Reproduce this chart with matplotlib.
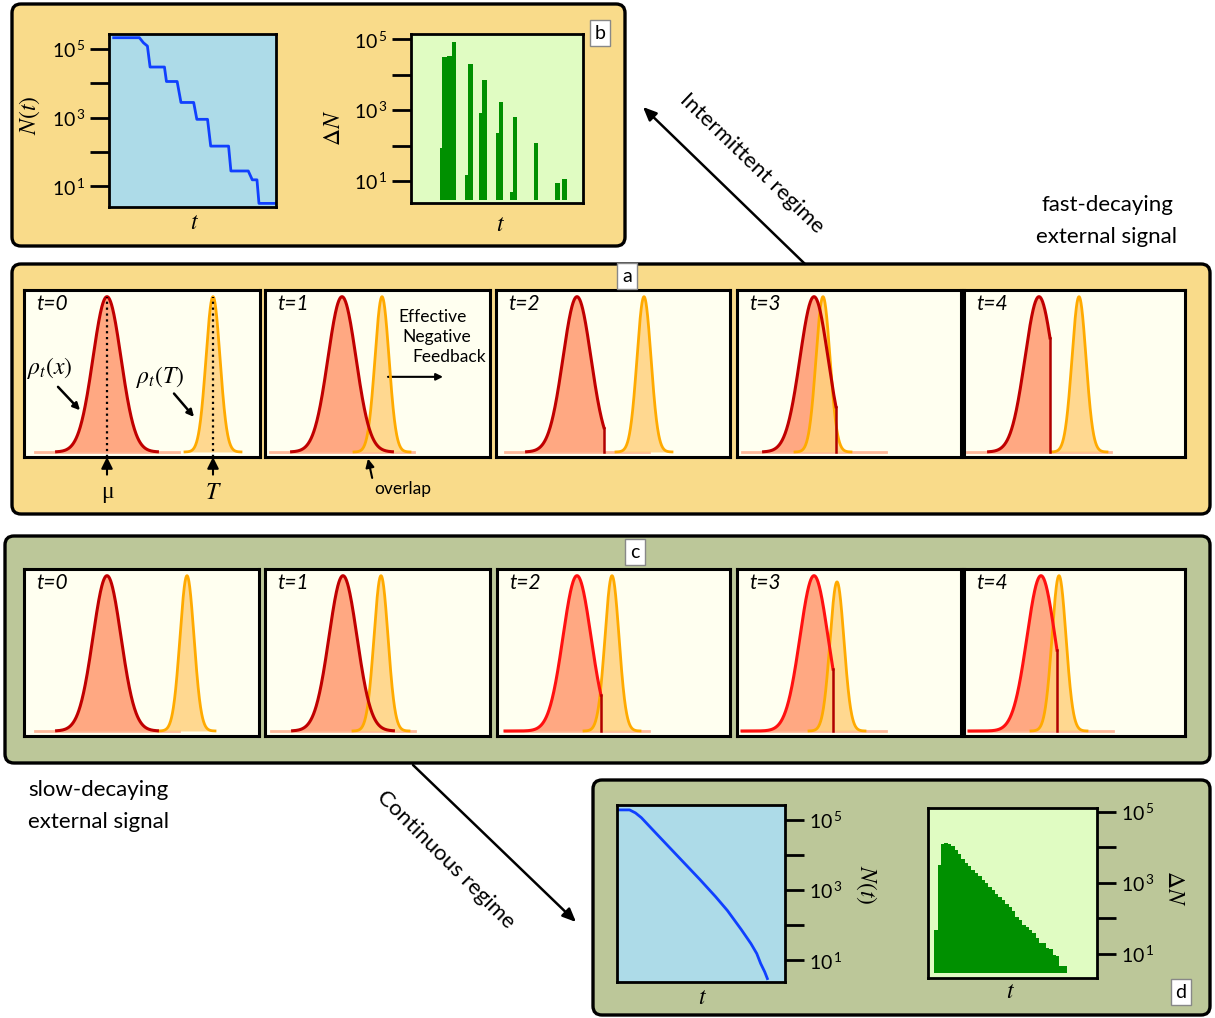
"""Intermittent vs continuous regime schematic"""

import matplotlib.pyplot as plt
import numpy as np
from matplotlib.patches import FancyBboxPatch
from matplotlib.ticker import NullLocator

plt.rcParams['font.family'] = ['Lato', 'DejaVu Sans']
plt.rcParams['mathtext.fontset'] = 'stix'

W, H = 1215, 1018

# panel b : intermittent regime (t runs 0..100 across the axes)
b_nt_t = [2.8, 18.2, 20.6, 23.0, 24.6, 33.2, 34.4, 40.8, 43.1, 50.7, 52.6,
          59.0, 60.9, 71.6, 73.0, 83.4, 85.8, 88.6, 89.8, 100]
b_nt_n = [2.1e5, 2.1e5, 1.5e5, 1.2e5, 2.95e4, 2.95e4, 1.12e4, 1.12e4, 2750,
          2750, 890, 890, 148, 148, 28, 28, 15.5, 15.5, 3.2, 3.2]
b_bar_left = [16.9, 18.0, 20.7, 23.6, 31.6, 33.1, 39.7, 41.3, 49.4, 51.0,
              57.6, 59.1, 71.3, 83.7, 87.8]
b_bar_width = [1.1, 2.7, 2.9, 2.8, 1.5, 2.8, 1.6, 2.7, 1.6, 2.7, 1.5, 2.7,
               2.7, 2.7, 2.7]
b_bar_dn = [84, 31000, 34000, 85000, 15, 20000, 810, 7100, 230, 1700, 4.9,
            660, 115, 8.6, 11.6]

# panel d : continuous regime
d_nt_t = [0.5, 7.5, 11.0, 14.5, 21.4, 30.8, 40.1, 49.4, 58.7, 65.7, 73.9,
          79.7, 83.2, 85.5, 87.9, 89.5]
d_nt_n = [1.95e5, 1.95e5, 1.6e5, 1.17e5, 5.2e4, 1.74e4, 5900, 2000, 650, 263,
          76, 30, 15.5, 8.1, 4.7, 3.0]
d_bar_left = list(np.arange(3.7, 79.0, 2.0))
d_bar_dn = [48, 3200, 12000, 13200, 12600, 10500, 8300, 6300, 4800, 3700,
            2900, 2300, 1860, 1510, 1200, 980, 780, 630, 500, 410, 330, 260,
            210, 160, 112, 89, 66, 58, 48, 40, 28, 21, 20, 15, 14, 9.5, 8.9,
            4.7]

# panels a and c : distributions rho_t(x) (red) and rho_t(T) (orange)
steps = ['t=0', 't=1', 't=2', 't=3', 't=4']
a_red_mu = [83, 77, 81, 77, 75]
a_org_mu = [189, 117, 148, 86, 115]
a_cut = [None, None, 108, 99, 86]
c_red_mu = [83, 78, 80, 77, 77]
c_org_mu = [163, 116, 115, 100, 95]
c_cut = [None, None, 104, 96, 93]
c_org_peak = [1.0, 1.0, 1.0, 0.96, 1.0]
sigma_red = 14
sigma_org = 7

ORANGE_BG = '#F9DB8A'
OLIVE_BG = '#BCC799'

fig = plt.figure(figsize=(W / 100, H / 100), dpi=100)


def px_axes(x0, y0, x1, y1, **kw):
    return fig.add_axes([x0 / W, 1 - y1 / H, (x1 - x0) / W, (y1 - y0) / H], **kw)


# background boxes
bg = fig.add_axes([0, 0, 1, 1])
bg.set_xlim(0, W)
bg.set_ylim(H, 0)
bg.axis('off')
for x0, y0, x1, y1, fc in [(12, 4, 625, 246, ORANGE_BG),
                           (12, 264, 1210, 514, ORANGE_BG),
                           (5, 536, 1210, 763, OLIVE_BG),
                           (593, 780, 1210, 1015, OLIVE_BG)]:
    bg.add_patch(FancyBboxPatch((x0, y0), x1 - x0, y1 - y0,
                                boxstyle='round,pad=0,rounding_size=9',
                                fc=fc, ec='black', lw=2.4))


def log_axes(ax, lo, hi, face, side='left'):
    ax.set_facecolor(face)
    ax.set_yscale('log')
    ax.set_ylim(lo, hi)
    ax.set_xlim(0, 100)
    ax.set_xticks([])
    ax.set_yticks([10, 100, 1e3, 1e4, 1e5])
    ax.set_yticklabels([r'$\mathregular{10^{\,1}}$', '', r'$\mathregular{10^{\,3}}$',
                        '', r'$\mathregular{10^{\,5}}$'])
    ax.yaxis.set_minor_locator(NullLocator())
    ax.tick_params(axis='y', direction='out', length=14, width=2,
                   labelsize=14, pad=3)
    if side == 'right':
        ax.yaxis.tick_right()
    for s in ax.spines.values():
        s.set_linewidth(2)


# panel b
ax = px_axes(109, 34, 276, 207)
log_axes(ax, 10 ** 0.40, 10 ** 5.43, '#ADDBE8')
ax.plot(b_nt_t, b_nt_n, color='#1040FF', lw=2)

ax = px_axes(411, 34, 583, 203)
log_axes(ax, 10 ** 0.38, 10 ** 5.15, '#E0FCC2')
ax.bar(b_bar_left, np.array(b_bar_dn) - 3, width=b_bar_width, bottom=3,
       align='edge', color='#009000', lw=0)

# panel d
ax = px_axes(617, 805, 785, 982)
log_axes(ax, 10 ** 0.38, 10 ** 5.43, '#ADDBE8', side='right')
ax.plot(d_nt_t, d_nt_n, color='#1040FF', lw=2)

ax = px_axes(928, 808, 1097, 978)
log_axes(ax, 10 ** 0.33, 10 ** 5.10, '#E0FCC2', side='right')
d_widths = [2.0] * (len(d_bar_dn) - 1) + [4.4]
ax.bar(d_bar_left, np.array(d_bar_dn) - 3, width=d_widths, bottom=3,
       align='edge', color='#009000', lw=0)


def dist_panel(ax, red_mu, org_mu, cut, red_col, org_peak=1.0, red_full=False):
    base, amp = 0.03, 0.93
    ax.plot([red_mu - 72, red_mu + 72], [base, base], color='#FFB89A', lw=2, zorder=1)
    lo = red_mu - 72 if red_full else red_mu - 3.6 * sigma_red
    hi = red_mu + 3.6 * sigma_red if cut is None else cut
    x = np.linspace(lo, hi, 300)
    y = base + amp * np.exp(-0.5 * ((x - red_mu) / sigma_red) ** 2)
    ax.fill_between(x, base, y, color='#FFA882', lw=0, zorder=2)
    xo = np.linspace(org_mu - 4 * sigma_org, org_mu + 4 * sigma_org, 300)
    yo = base + amp * org_peak * np.exp(-0.5 * ((xo - org_mu) / sigma_org) ** 2)
    ax.fill_between(xo, base, yo, color='#FFD27F', alpha=0.85, lw=0, zorder=3)
    ax.plot(xo, yo, color='#FFAA00', lw=2, zorder=4)
    ax.plot(x, y, color=red_col, lw=2.2, zorder=5)
    if cut is not None:
        ax.plot([cut, cut], [base, y[-1]], color='#B00000', lw=1.8, zorder=5)


a_xs = [(24, 260), (265, 490), (496, 730), (737, 961), (964, 1185)]
c_xs = [(24, 259), (265, 490), (497, 730), (737, 961), (964, 1185)]
a_axes = []
for i in range(5):
    for row in ('a', 'c'):
        x0, x1 = (a_xs if row == 'a' else c_xs)[i]
        y0, y1 = (290, 457) if row == 'a' else (569, 736)
        ax = px_axes(x0, y0, x1, y1)
        ax.set_facecolor('#FFFFF0')
        ax.set_xlim(0, x1 - x0)
        ax.set_ylim(0, 1)
        ax.set_xticks([])
        ax.set_yticks([])
        for s in ax.spines.values():
            s.set_linewidth(2.2)
        ax.text(12, 0.915, steps[i], style='italic', fontsize=15, va='center')
        if row == 'a':
            dist_panel(ax, a_red_mu[i], a_org_mu[i], a_cut[i], '#C00000')
            a_axes.append(ax)
        else:
            col = '#C00000' if c_cut[i] is None else '#FF1010'
            dist_panel(ax, c_red_mu[i], c_org_mu[i], c_cut[i], col,
                       org_peak=c_org_peak[i], red_full=c_cut[i] is not None)

# annotations inside panel a
ax = a_axes[0]
for mu, lab, fam in [(a_red_mu[0], 'μ', 'Liberation Serif'), (a_org_mu[0], '$T$', None)]:
    ax.plot([mu, mu], [0, 0.96], ls=':', color='black', lw=1.6, zorder=6)
    ax.annotate(lab, xy=(mu, 0), xycoords=('data', 'axes fraction'),
                xytext=(mu, -0.21), textcoords=('data', 'axes fraction'),
                ha='center', va='center', fontsize=17, family=fam,
                annotation_clip=False,
                arrowprops=dict(arrowstyle='-|>', color='black', lw=1.5,
                                shrinkA=3, shrinkB=0))
ax.text(26, 0.53, r'$\rho_t(x)$', fontsize=17, ha='center', va='center')
ax.annotate('', xy=(56, 0.28), xytext=(34, 0.42),
            arrowprops=dict(arrowstyle='-|>', color='black', lw=1.8, shrinkA=0, shrinkB=0))
ax.text(136, 0.48, r'$\rho_t(T)$', fontsize=17, ha='center', va='center')
ax.annotate('', xy=(170, 0.24), xytext=(150, 0.38),
            arrowprops=dict(arrowstyle='-|>', color='black', lw=1.8, shrinkA=0, shrinkB=0))

ax = a_axes[1]
for txt, xx, yy in [('Effective', 168, 0.84), ('Negative', 172, 0.72), ('Feedback', 184, 0.60)]:
    ax.text(xx, yy, txt, fontsize=12.5, ha='center', va='center')
ax.annotate('', xy=(178, 0.48), xytext=(123, 0.48),
            arrowprops=dict(arrowstyle='-|>', color='black', lw=1.5, shrinkA=0, shrinkB=0))
ax.annotate('overlap', xy=(103, -0.01), xycoords=('data', 'axes fraction'),
            xytext=(138, -0.19), textcoords=('data', 'axes fraction'),
            ha='center', va='center', fontsize=12.5, annotation_clip=False,
            arrowprops=dict(arrowstyle='-|>', color='black', lw=1.5,
                            shrinkA=0, shrinkB=0, relpos=(0.0, 0.5)))

# overlay for labels and arrows
top = fig.add_axes([0, 0, 1, 1], facecolor='none')
top.set_xlim(0, W)
top.set_ylim(H, 0)
top.axis('off')

for x, y, s, rot in [(30, 115, '$N(t)$', 90), (195, 222, '$t$', 0),
                     (333, 128, r'$\Delta N$', 90), (501, 224, '$t$', 0),
                     (866, 885, '$N(t)$', -90), (702, 998, '$t$', 0),
                     (1175, 888, r'$\Delta N$', -90), (1010, 992, '$t$', 0)]:
    top.text(x, y, s, fontsize=17, rotation=rot, ha='center', va='center')

for x, y, s in [(600, 33, 'b'), (627, 276, 'a'), (635, 552, 'c'), (1181, 992, 'd')]:
    top.text(x, y, s, fontsize=14, ha='center', va='center',
             bbox=dict(boxstyle='square,pad=0.25', fc='white', ec='#888888', lw=1))

top.text(1107, 205, 'fast-decaying', fontsize=16, ha='center', va='center')
top.text(1107, 237, 'external signal', fontsize=16, ha='center', va='center')
top.text(98, 790, 'slow-decaying', fontsize=16, ha='center', va='center')
top.text(98, 822, 'external signal', fontsize=16, ha='center', va='center')

top.annotate('', xy=(643, 107), xytext=(805, 264),
             arrowprops=dict(arrowstyle='-|>,head_length=0.8,head_width=0.35',
                             color='black', lw=1.8, shrinkA=0, shrinkB=0))
top.text(752, 163, 'Intermittent regime', fontsize=16, rotation=-44,
         rotation_mode='anchor', ha='center', va='center')
top.annotate('', xy=(576, 922), xytext=(413, 765),
             arrowprops=dict(arrowstyle='-|>,head_length=0.8,head_width=0.35',
                             color='black', lw=1.8, shrinkA=0, shrinkB=0))
top.text(446, 860, 'Continuous regime', fontsize=16, rotation=-45,
         rotation_mode='anchor', ha='center', va='center')

plt.savefig('out.png', dpi=100)
